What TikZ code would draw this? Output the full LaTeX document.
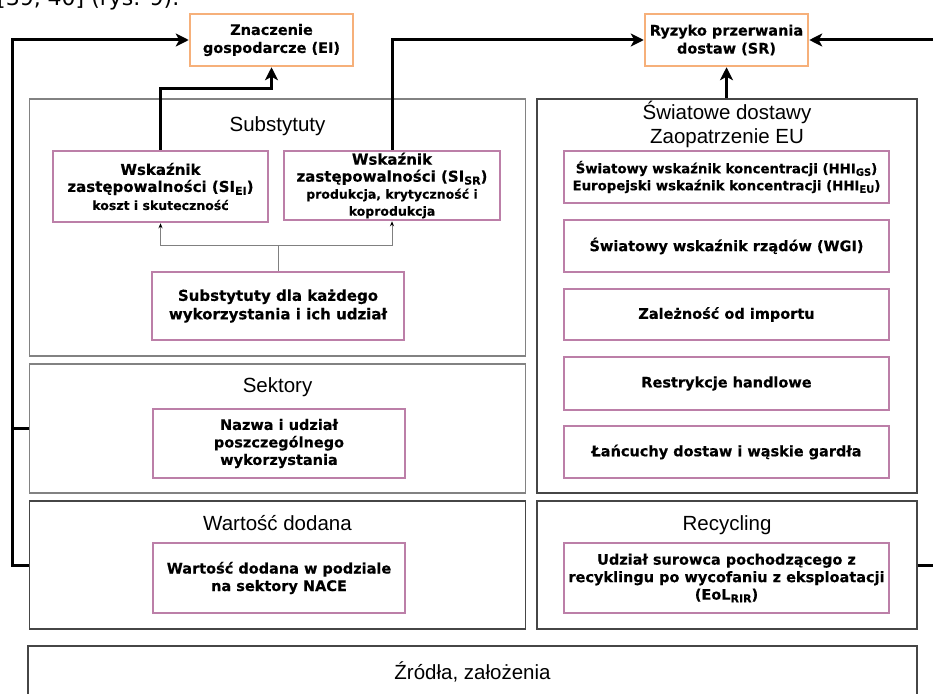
\documentclass[tikz,border=0pt]{standalone}
\usepackage{fontspec}
\setmainfont{DejaVu Sans}[BoldFeatures={FakeBold=0.35}]
\newfontfamily\ttlfont{Liberation Sans}
\usetikzlibrary{arrows.meta}
\definecolor{orng}{RGB}{246,176,122}
\definecolor{purp}{RGB}{188,127,168}
\definecolor{pgray}{RGB}{130,130,130}
\definecolor{pdark}{RGB}{70,70,70}
\newcommand\sbs[2][11]{\raisebox{-0.35ex}{\fontsize{#1}{#1}\selectfont #2}}
\newcommand\smf{\fontsize{12.5}{15}\selectfont}
\newcommand\bgf{\fontsize{15}{17}\selectfont}
\tikzset{
  bx/.style={draw, line width=2.5pt, fill=white, align=center, inner sep=0pt,
    font=\bfseries\fontsize{14.5}{17.5}\selectfont},
  outbox/.style={bx, draw=orng, minimum width=163pt, minimum height=52pt},
  inbox/.style={bx, draw=purp},
  panel/.style={draw=pgray, line width=1.3pt, inner sep=0pt},
  dpanel/.style={draw=pdark, line width=1.3pt, inner sep=0pt},
  ttlnode/.style={font=\ttlfont\fontsize{20.5}{23}\selectfont, inner sep=0pt, anchor=base},
  bigarrow/.style={line width=3pt, -{Stealth[length=13pt,width=13pt,inset=3.5pt]}},
  bigline/.style={line width=3pt},
  thinline/.style={draw=gray, line width=0.8pt},
  thinarrow/.style={thinline, -{Stealth[length=5pt,width=4pt,black]}},
}
\begin{document}
\begin{tikzpicture}[x=1pt,y=-1pt]
\useasboundingbox (0,0) rectangle (933,693);
% cut-off text line above the figure
\node[anchor=base west, inner sep=0pt, font=\fontsize{22}{26}\selectfont] (frag) at (-3,6) {[39, 40] (rys. 9).};

% panels
\node[panel, minimum width=496pt, minimum height=257pt] (sub) at (277.5,227.5) {};
\node[panel, minimum width=496pt, minimum height=129pt] (sek) at (277.5,428.5) {};
\node[dpanel, minimum width=496pt, minimum height=128pt] (wd) at (277.5,565) {};
\node[dpanel, minimum width=380pt, minimum height=394pt] (sw) at (727,296) {};
\node[dpanel, minimum width=380pt, minimum height=128pt] (rec) at (727,565) {};
\node[dpanel, minimum width=889pt, minimum height=94pt] (src) at (472.5,693) {};

% panel titles
\node[ttlnode] (tsub) at (277.5,131) {Substytuty};
\node[ttlnode] (tsek) at (277.5,392) {Sektory};
\node[ttlnode] (twd) at (277.5,530) {Wartość dodana};
\node[ttlnode] (tsw1) at (727,119) {Światowe dostawy};
\node[ttlnode] (tsw2) at (727,143) {Zaopatrzenie EU};
\node[ttlnode] (trec) at (727,530) {Recycling};
\node[ttlnode] (tsrc) at (472.5,679) {Źródła, założenia};

% top result boxes
\node[outbox, font=\bfseries\fontsize{14.5}{18}\selectfont] (ei) at (271.5,40) {Znaczenie\\gospodarcze (EI)};
\node[outbox, font=\bfseries\fontsize{14.5}{18}\selectfont] (sr) at (726.5,40) {Ryzyko przerwania\\dostaw (SR)};

% inner boxes, left column
\node[inbox, minimum width=215pt, minimum height=71pt, font=\bfseries\bgf] (siei) at (160.5,186.5)
  {Wskaźnik\\zastępowalności (SI\sbs{EI})\\[1pt]{\smf koszt i skuteczność}};
\node[inbox, minimum width=216pt, minimum height=69pt, font=\bfseries\bgf] (sisr) at (392,185.5)
  {Wskaźnik\\zastępowalności (SI\sbs{SR})\\{\smf produkcja, krytyczność i}\\{\smf koprodukcja}};
\node[inbox, minimum width=252pt, minimum height=68pt, font=\bfseries\fontsize{15}{18.5}\selectfont] (subdla) at (278,306)
  {Substytuty dla każdego\\wykorzystania i ich udział};
\node[inbox, minimum width=252pt, minimum height=69pt] (nazwa) at (279,443.5)
  {Nazwa i udział\\poszczególnego\\wykorzystania};
\node[inbox, minimum width=252pt, minimum height=70pt] (wdbox) at (279,578)
  {Wartość dodana w podziale\\na sektory NACE};

% inner boxes, right column
\node[inbox, minimum width=325pt, minimum height=52pt, font=\bfseries\fontsize{13.3}{17}\selectfont] (hhi) at (726.5,177)
  {Światowy wskaźnik koncentracji (HHI\sbs[10]{GS})\\Europejski wskaźnik koncentracji (HHI\sbs[10]{EU})};
\node[inbox, minimum width=325pt, minimum height=52pt] (wgi) at (726.5,246) {Światowy wskaźnik rządów (WGI)};
\node[inbox, minimum width=325pt, minimum height=51pt] (zal) at (726.5,314.5) {Zależność od importu};
\node[inbox, minimum width=325pt, minimum height=53pt] (res) at (726.5,383.5) {Restrykcje handlowe};
\node[inbox, minimum width=325pt, minimum height=52pt] (lan) at (726.5,452) {Łańcuchy dostaw i wąskie gardła};
\node[inbox, minimum width=325pt, minimum height=70pt] (udz) at (726.5,578)
  {Udział surowca pochodzącego z\\recyklingu po wycofaniu z eksploatacji\\(EoL\sbs{RIR})};

% thin connectors inside Substytuty
\coordinate (split) at (278,245);
\draw[thinline] (subdla.north) -- (split);
\draw[thinarrow] (split) -| (siei.south);
\draw[thinarrow] (split) -| (sisr.south);

% thick connectors
\draw[bigarrow] (siei.north) -- ++(0,-61) -| (ei.south);
\draw[bigarrow] (sisr.north) |- (sr.west);
\draw[bigarrow] (sw.north -| sr.south) -- (sr.south);

\coordinate (lbus) at (12,565);
\draw[bigarrow] (wd.west) -- (lbus) |- (ei.west);
\draw[bigline] (sek.west) -- (sek.west -| lbus);

\coordinate (rbus) at (948,565);
\draw[bigarrow] (rec.east) -- (rbus) |- (sr.east);
\end{tikzpicture}
\end{document}
